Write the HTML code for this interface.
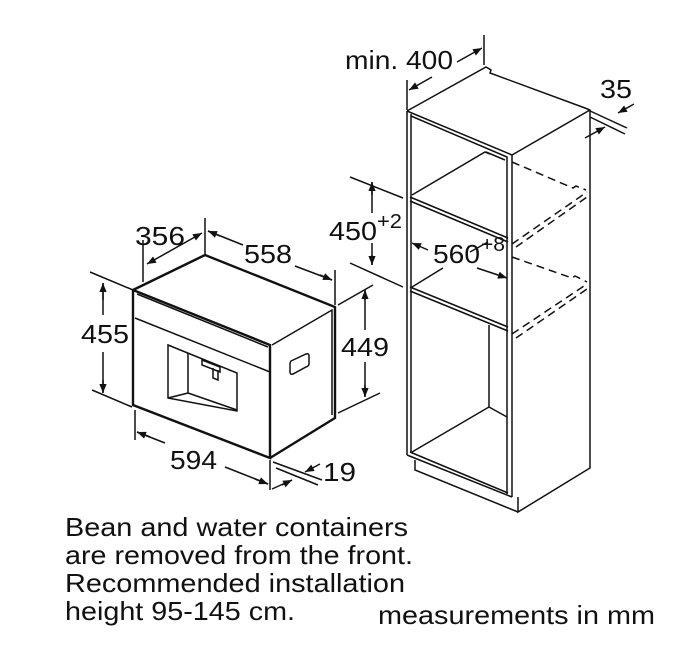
<!DOCTYPE html>
<html><head><meta charset="utf-8"><style>
html,body{margin:0;padding:0;background:#fff;}
svg{display:block;}
text{font-family:"Liberation Sans",sans-serif;fill:#111;}
</style></head><body>
<svg width="684" height="649" viewBox="0 0 684 649" xmlns="http://www.w3.org/2000/svg">
<defs>
<marker id="a" viewBox="0 0 10 10" refX="10" refY="5" markerWidth="11" markerHeight="9" orient="auto-start-reverse" markerUnits="userSpaceOnUse"><path d="M0,1 L10,5 L0,9 z" fill="#111"/></marker>
</defs>
<g stroke="#111" fill="none" stroke-width="1.5">
<!-- Appliance -->
<path d="M133,290 L205,255 L335,307 L335,418 L270,458" stroke-width="2.4"/>
<path d="M133,290 L133,405 L270,458 L270,345 L133,290" stroke-width="2.4"/>
<path d="M137,294 L268,347"/>
<path d="M135,318 L270,372"/>
<path d="M272,345 L332,310 L332,415"/>
<path d="M168,345 L237,373 L237,411 L168,398 Z"/>
<path d="M188,353 L188,393 L168,398 M188,393 L237,410"/>
<path d="M202,360 L220,367 L220,372 L202,365 Z M213,368 L213,378 L218,380 L218,370"/>
<path d="M291,361 L306,354 Q309,353 309,356 L309,364 Q309,366 306,367 L293,374 Q290,375 290,372 L290,364 Q290,362 291,361 Z"/>
<!-- appliance dims -->
<path d="M143,240 L143,282 M205,218 L205,255"/>
<path d="M147,264 L202,233" marker-start="url(#a)" marker-end="url(#a)"/>
<path d="M335,270 L335,305"/>
<path d="M208,231 L243,245 M295,266 L332,280" />
<path d="M208,231 L220,236" marker-start="url(#a)"/>
<path d="M320,275 L332,280" marker-end="url(#a)"/>
<path d="M90,272 L133,290 M92,390 L132,407"/>
<path d="M103,283 L103,315 M103,352 L103,393"/>
<path d="M103,300 L103,283" marker-end="url(#a)"/><path d="M103,380 L103,393" marker-end="url(#a)"/>
<path d="M338,305 L373,285 M338,413 L380,393"/>
<path d="M365,290 L365,330 M365,362 L365,397"/>
<path d="M365,300 L365,290" marker-end="url(#a)"/><path d="M365,385 L365,397" marker-end="url(#a)"/>
<path d="M135,410 L135,440 M270,460 L270,490"/>
<path d="M137,432 L165,443 M225,467 L268,484"/>
<path d="M150,437 L137,432" marker-end="url(#a)"/><path d="M255,479 L268,484" marker-end="url(#a)"/>
<path d="M273,462 L322,480 M276,468 L318,485"/>
<path d="M272,489 L292,480" /><path d="M282,485 L292,480" marker-end="url(#a)"/>
<path d="M320,464 L305,472" marker-end="url(#a)"/>
<!-- Cabinet -->
<path d="M407,111 L486,67 L491,70 L490,73 L585,108 L590,110 L590,468 L518,512 L518,497"/>
<path d="M407,111 L407,455 M411,114 L411,452 M407,111 L512,155 M411,116 L507,157 L507,494 M512,155 L512,497 M512,155 L590,110"/>
<path d="M410,197 L508,238 M410,201 L508,242 M412,195 L485,152 L490,154 M486,152 L505,160"/>
<path d="M410,287 L508,327 M410,291 L508,331 M412,287 L443,268 M470,252 L488,242"/>
<path d="M410,452 L508,493 M407,455 L512,497 M412,452 L489,407 L489,325 M489,407 L507,417"/>
<path d="M415,460 L415,470 L518,512"/>
<path d="M512,162 L573,188 L576,186 L586,190 M512,244 L587,192 M516,247 L587,197" stroke-dasharray="8,5"/>
<path d="M512,257 L572,278 L575,276 L587,282 M512,334 L587,284 M516,338 L587,289" stroke-dasharray="8,5"/>
<!-- cabinet dims -->
<path d="M407,80 L407,110 M484,35 L484,65"/>
<path d="M432,77 L409,90" marker-end="url(#a)"/>
<path d="M457,62 L482,48" marker-end="url(#a)"/>
<path d="M588,110 L627,128 M590,117 L625,134"/>
<path d="M634,104 L618,113" marker-end="url(#a)"/>
<path d="M585,138 L605,127" marker-end="url(#a)"/>
<path d="M350,177 L403,198 M350,263 L403,287"/>
<path d="M372,182 L372,213 M372,243 L372,265"/>
<path d="M372,195 L372,182" marker-end="url(#a)"/><path d="M372,255 L372,265" marker-end="url(#a)"/>
<path d="M428,250 L412,243" marker-end="url(#a)"/>
<path d="M477,268 L507,278" marker-end="url(#a)"/>
</g>
<g font-size="26">
<text x="135" y="245" textLength="50" lengthAdjust="spacingAndGlyphs">356</text>
<text x="244" y="263" textLength="48" lengthAdjust="spacingAndGlyphs">558</text>
<text x="81" y="343" textLength="48" lengthAdjust="spacingAndGlyphs">455</text>
<text x="341" y="356" textLength="48" lengthAdjust="spacingAndGlyphs">449</text>
<text x="170" y="469" textLength="47" lengthAdjust="spacingAndGlyphs">594</text>
<text x="323" y="481" textLength="33" lengthAdjust="spacingAndGlyphs">19</text>
<text x="345" y="69" textLength="108" lengthAdjust="spacingAndGlyphs">min. 400</text>
<text x="600" y="98" textLength="32" lengthAdjust="spacingAndGlyphs">35</text>
<text x="329" y="240" textLength="48" lengthAdjust="spacingAndGlyphs">450</text>
<text x="377" y="228" font-size="20" textLength="25" lengthAdjust="spacingAndGlyphs">+2</text>
<text x="433" y="263" textLength="47" lengthAdjust="spacingAndGlyphs">560</text>
<text x="481" y="251" font-size="20" textLength="24" lengthAdjust="spacingAndGlyphs">+8</text>
<text x="65" y="536" textLength="343" lengthAdjust="spacingAndGlyphs">Bean and water containers</text>
<text x="65" y="564" textLength="348" lengthAdjust="spacingAndGlyphs">are removed from the front.</text>
<text x="65" y="592" textLength="340" lengthAdjust="spacingAndGlyphs">Recommended installation</text>
<text x="65" y="620" textLength="230" lengthAdjust="spacingAndGlyphs">height 95-145 cm.</text>
<text x="378" y="624" textLength="277" lengthAdjust="spacingAndGlyphs">measurements in mm</text>
</g>
</svg>
</body></html>
